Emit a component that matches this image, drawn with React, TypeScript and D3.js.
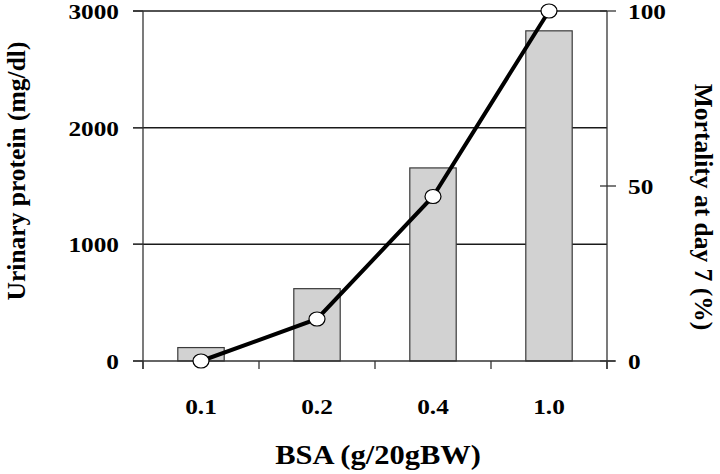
import React from 'react';
import * as d3 from 'd3';

const doses = ['0.1', '0.2', '0.4', '1.0'];
const protein = [115, 620, 1655, 2830];
const mortality = [0, 12, 47, 100];
const proteinTicks = [0, 1000, 2000, 3000];
const mortalityTicks = [0, 50, 100];

// the original figure is stretched a bit sideways, so text is widened too
const SX = 1.15;

const App = () => {
    const width = 720;
    const height = 474;
    const margin = { top: 11, right: 113, bottom: 113, left: 143 };
    const x0 = margin.left;
    const x1 = width - margin.right;
    const y0 = height - margin.bottom;
    const y1 = margin.top;
    const font = '"Liberation Serif", "Times New Roman", serif';

    const xScale = d3.scaleBand().domain(doses).range([x0, x1]).paddingInner(0.6).paddingOuter(0.3);
    const step = xScale.step();
    const cx = (d: string) => (xScale(d) as number) + xScale.bandwidth() / 2;
    const yLeft = d3.scaleLinear().domain([0, 3000]).range([y0, y1]);
    const yRight = d3.scaleLinear().domain([0, 100]).range([y0, y1]);

    const line = d3
        .line<number>()
        .x((d, i) => cx(doses[i]))
        .y((d) => yRight(d));

    // category boundaries for the tick marks under the x axis
    const bounds = d3.range(doses.length + 1).map((i) => x0 + i * step);

    return (
        <svg width={width} height={height} style={{ position: 'absolute', left: 0, top: 0, background: '#fff' }}>
            {/* gridlines */}
            {proteinTicks.slice(1).map((t) => (
                <line key={t} x1={x0 - 10} x2={x1} y1={yLeft(t)} y2={yLeft(t)} stroke="#1a1a1a" strokeWidth={1.5} />
            ))}

            {/* bars */}
            {protein.map((v, i) => (
                <rect
                    key={doses[i]}
                    x={xScale(doses[i])}
                    y={yLeft(v)}
                    width={xScale.bandwidth()}
                    height={y0 - yLeft(v)}
                    fill="#d2d2d2"
                    stroke="#3a3a3a"
                    strokeWidth={1.2}
                />
            ))}

            {/* axes */}
            <line x1={x0} x2={x0} y1={y1} y2={y0 + 8} stroke="#333" strokeWidth={1.3} />
            <line x1={x1} x2={x1} y1={y1} y2={y0 + 8} stroke="#333" strokeWidth={1.3} />
            <line x1={x0 - 10} x2={x1 + 8} y1={y0} y2={y0} stroke="#333" strokeWidth={1.3} />
            {bounds.map((b) => (
                <line key={b} x1={b} x2={b} y1={y0} y2={y0 + 8} stroke="#333" strokeWidth={1.3} />
            ))}
            {proteinTicks.map((t) => (
                <line key={t} x1={x0 - 10} x2={x0} y1={yLeft(t)} y2={yLeft(t)} stroke="#333" strokeWidth={1.3} />
            ))}
            {mortalityTicks.map((t) => (
                <line key={t} x1={x1 - 7} x2={x1 + 9} y1={yRight(t)} y2={yRight(t)} stroke="#333" strokeWidth={1.3} />
            ))}

            {/* mortality line */}
            <path d={line(mortality) || ''} fill="none" stroke="#000" strokeWidth={4} />
            {mortality.map((v, i) => (
                <ellipse
                    key={doses[i]}
                    cx={cx(doses[i])}
                    cy={yRight(v)}
                    rx={8}
                    ry={7}
                    fill="#fff"
                    stroke="#000"
                    strokeWidth={1.2}
                />
            ))}

            {/* tick labels */}
            <g fontFamily={font} fontWeight="bold" fontSize={22} fill="#000">
                {proteinTicks.map((t) => (
                    <text key={t} transform={`translate(${x0 - 24}, ${yLeft(t)}) scale(${SX}, 1)`} dy="0.36em" textAnchor="end">
                        {t}
                    </text>
                ))}
                {mortalityTicks.map((t) => (
                    <text key={t} transform={`translate(${x1 + 21}, ${yRight(t)}) scale(${SX}, 1)`} dy="0.36em" textAnchor="start">
                        {t}
                    </text>
                ))}
                {doses.map((d) => (
                    <text key={d} transform={`translate(${cx(d)}, 414) scale(${SX}, 1)`} textAnchor="middle">
                        {d}
                    </text>
                ))}
            </g>

            {/* axis titles */}
            <g fontFamily={font} fontWeight="bold" fill="#000">
                <text transform={`translate(378, 464) scale(${SX}, 1)`} textAnchor="middle" fontSize={26.5}>
                    BSA (g/20gBW)
                </text>
                <text transform="translate(25, 171) rotate(-90)" textAnchor="middle" fontSize={25.5}>
                    Urinary protein (mg/dl)
                </text>
                <text transform="translate(695, 207) rotate(90)" textAnchor="middle" fontSize={25.5}>
                    Mortality at day 7 (%)
                </text>
            </g>
        </svg>
    );
};

export default App;
